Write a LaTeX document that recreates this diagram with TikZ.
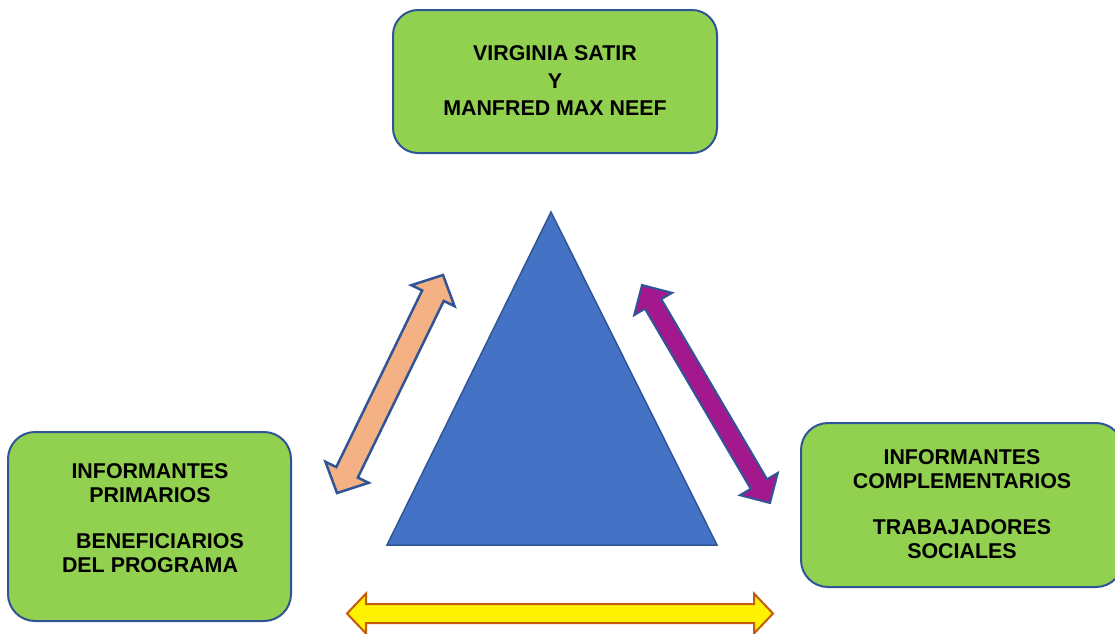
\documentclass[tikz,border=0pt]{standalone}
\usepackage{fontspec}
\setmainfont{Liberation Sans}
\usetikzlibrary{calc}

\definecolor{boxgreen}{HTML}{92D050}
\definecolor{edgeblue}{HTML}{2F5597}
\definecolor{triblue}{HTML}{4472C4}
\definecolor{peach}{HTML}{F4B183}
\definecolor{plum}{HTML}{A3198D}
\definecolor{rust}{HTML}{C55A11}

% #1 style, #2 tip, #3 other tip, #4 head length, #5 half head, #6 half shaft
\newcommand{\dblarrow}[6]{%
  \draw[#1] (#2) -- ($(#2)!#4!(#3)!#5!90:(#3)$) -- ($(#2)!#4!(#3)!#6!90:(#3)$)
    -- ($(#3)!#4!(#2)!#6!-90:(#2)$) -- ($(#3)!#4!(#2)!#5!-90:(#2)$) -- (#3)
    -- ($(#3)!#4!(#2)!#5!90:(#2)$) -- ($(#3)!#4!(#2)!#6!90:(#2)$)
    -- ($(#2)!#4!(#3)!#6!-90:(#3)$) -- ($(#2)!#4!(#3)!#5!-90:(#3)$) -- cycle;}

\begin{document}
\begin{tikzpicture}[x=1pt,y=-1pt,
    box/.style={draw=edgeblue, line width=2pt, fill=boxgreen, rounded corners=27pt,
      inner sep=0pt},
    boxtext/.style={align=center, font=\fontsize{21.4}{24.5}\selectfont\bfseries, inner sep=0pt},
    tri/.style={draw=edgeblue, line width=1.5pt, fill=triblue, line join=miter}]
    \useasboundingbox (0,0) rectangle (1115,633);

    \node[box, minimum width=324pt, minimum height=143pt, rounded corners=25pt] (satir) at (555,81.5) {};
    \node[boxtext, font=\fontsize{21.4}{27.5}\selectfont\bfseries] (satirtxt) at (555,81)
      {VIRGINIA SATIR\\Y\\MANFRED MAX NEEF};
    \node[box, minimum width=283pt, minimum height=189pt] (primarios) at (149.5,526.5) {};
    \node[boxtext] (primariostxt) at (150,518)
      {INFORMANTES\\PRIMARIOS\\[21pt]\hspace*{20pt}BENEFICIARIOS\\DEL PROGRAMA};
    \node[box, minimum width=322pt, minimum height=164pt] (complem) at (962,505) {};
    \node[boxtext] (complemtxt) at (962,504)
      {INFORMANTES\\COMPLEMENTARIOS\\[21pt]TRABAJADORES\\SOCIALES};

    \draw[tri] (551,212) -- (717,545) -- (387,545) -- cycle;

    \coordinate (o1) at (443,275);
    \coordinate (o2) at (337,493);
    \coordinate (p1) at (642,285);
    \coordinate (p2) at (770,503);
    \coordinate (y1) at (347,613.5);
    \coordinate (y2) at (773,613.5);
    \dblarrow{draw=edgeblue, line width=2.5pt, fill=peach, line join=miter}{o1}{o2}{23pt}{24pt}{12pt}
    \dblarrow{draw=edgeblue, line width=2pt, fill=plum, line join=miter}{p1}{p2}{22pt}{22pt}{9.5pt}
    \dblarrow{draw=rust, line width=2pt, fill=yellow, line join=miter}{y1}{y2}{19pt}{20pt}{9.5pt}
\end{tikzpicture}
\end{document}
